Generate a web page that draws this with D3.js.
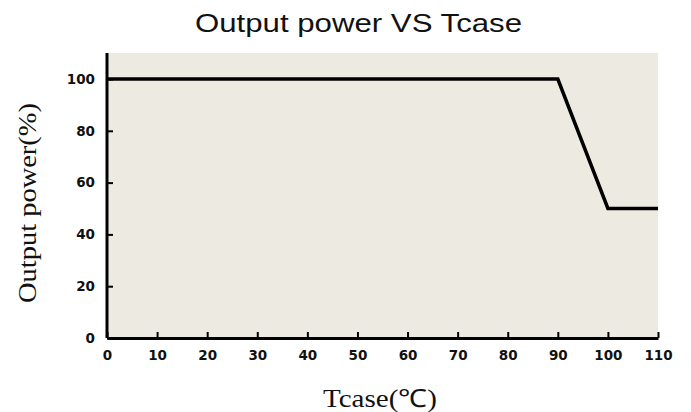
<!DOCTYPE html>
<html><head><meta charset="utf-8">
<script src="https://cdn.jsdelivr.net/npm/d3@7"></script>
<style>body{margin:0;background:#fff}svg{display:block}</style>
</head><body>
<svg id="c" width="691" height="412"></svg>
<script>
const tcase = [0, 90, 100, 110];
const power = [100, 100, 50, 50];
const xTicks = [0,10,20,30,40,50,60,70,80,90,100,110];
const yTicks = [0,20,40,60,80,100];
const title = "Output power VS Tcase";
const xLabel = "Tcase(℃)";
const yLabel = "Output power(%)";

const svg = d3.select("#c");
const m = {l:107, r:658, t:53, b:338};
const x = d3.scaleLinear().domain([0,110]).range([m.l, m.r]);
const y = d3.scaleLinear().domain([0,100]).range([m.b, 79]);

svg.append("rect").attr("x", m.l).attr("y", m.t).attr("width", m.r-m.l).attr("height", m.b-m.t).attr("fill", "#ECEAE1");

const tickFont = "'DejaVu Sans', Verdana, sans-serif";
const xa = svg.append("g").attr("transform", `translate(0,${m.b})`)
  .call(d3.axisBottom(x).tickValues(xTicks).tickSize(-6).tickPadding(12).tickSizeOuter(0));
xa.select(".domain").attr("stroke","#000").attr("stroke-width",3);
xa.selectAll(".tick line").attr("stroke","#000").attr("stroke-width",2);
xa.selectAll("text").attr("font-family",tickFont).attr("font-weight","bold").attr("font-size",13.5).attr("fill","#111");

const ya = svg.append("g").attr("transform", `translate(${m.l},0)`)
  .call(d3.axisLeft(y).tickValues(yTicks).tickSize(-6).tickPadding(12).tickSizeOuter(0));
ya.select(".domain").attr("d", `M0,${m.t}V${m.b}`).attr("stroke","#000").attr("stroke-width",3);
ya.selectAll(".tick line").attr("stroke","#000").attr("stroke-width",2);
ya.selectAll("text").attr("font-family",tickFont).attr("font-weight","bold").attr("font-size",13.5).attr("fill","#111");

svg.append("path").datum(tcase.map((t,i)=>[t,power[i]]))
  .attr("d", d3.line().x(d=>x(d[0])).y(d=>y(d[1])))
  .attr("fill","none").attr("stroke","#000").attr("stroke-width",3.5).attr("stroke-linejoin","miter");

svg.append("text").attr("x", 358.5).attr("y", 32).attr("text-anchor","middle")
  .attr("textLength", 327).attr("lengthAdjust","spacingAndGlyphs")
  .attr("font-family","'Liberation Sans', Arial, sans-serif").attr("font-size",26).attr("fill","#111").text(title);
svg.append("text").attr("x", 380).attr("y", 407).attr("text-anchor","middle")
  .attr("textLength", 114).attr("lengthAdjust","spacingAndGlyphs")
  .attr("font-family","'Liberation Serif', 'Times New Roman', serif").attr("font-size",25).attr("fill","#111").text(xLabel);
svg.append("text").attr("transform","translate(36,203) rotate(-90)").attr("text-anchor","middle")
  .attr("textLength", 200).attr("lengthAdjust","spacingAndGlyphs")
  .attr("font-family","'Liberation Serif', 'Times New Roman', serif").attr("font-size",25).attr("fill","#111").text(yLabel);
</script>
</body></html>
